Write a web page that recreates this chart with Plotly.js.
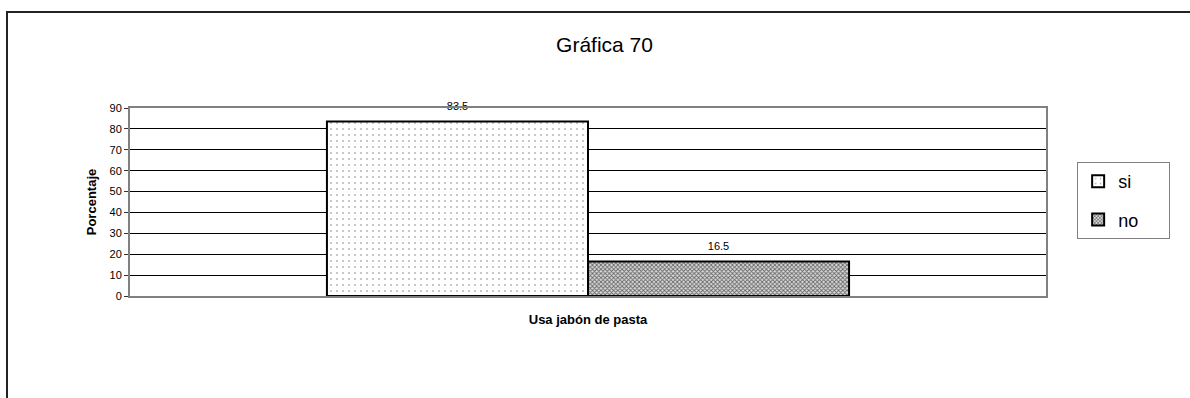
<!DOCTYPE html>
<html>
<head>
<meta charset="utf-8">
<script src="https://cdn.plot.ly/plotly-3.0.1.min.js"></script>
<style>
  body { margin: 0; background: #fff; }
  #wrap { position: relative; width: 1190px; height: 398px; overflow: hidden; }
  #chart { position: absolute; left: 0; top: 0; width: 1190px; height: 398px; }
  /* frame around the chart sheet, open on the right and bottom */
  #frame { position: absolute; left: 6px; top: 11px; width: 1200px; height: 400px;
           border-top: 2px solid #222; border-left: 2px solid #222; pointer-events: none; }
</style>
</head>
<body>
<div id="wrap">
  <div id="chart"></div>
  <div id="frame"></div>
</div>
<script>
// data
const categoria = ['Usa jabón de pasta'];
const serieSi = [83.5];
const serieNo = [16.5];
const yTicks = [0, 10, 20, 30, 40, 50, 60, 70, 80, 90];

const fontFam = 'Liberation Sans, Arial, sans-serif';

// value label a bit higher above the bar, like the original
const etiqueta = v => '<span style="font-size:11px">' + v + '</span><br> ';

const traceSi = {
    type: 'bar',
    name: 'si\u00a0\u00a0\u00a0\u00a0\u00a0',
    legendgroup: 'si',
    x: categoria,
    y: serieSi,
    text: serieSi.map(etiqueta),
    textposition: 'outside',
    cliponaxis: false,
    textfont: { family: fontFam, size: 6, color: '#000' },
    marker: {
        color: '#fff',
        line: { color: '#000', width: 2 },
        pattern: { shape: '.', size: 6, solidity: 0.1, fgcolor: '#bbb', bgcolor: '#fff' }
    }
};

const traceNo = {
    type: 'bar',
    name: 'no\u00a0\u00a0\u00a0\u00a0\u00a0',
    legendgroup: 'no',
    x: categoria,
    y: serieNo,
    text: serieNo.map(etiqueta),
    textposition: 'outside',
    cliponaxis: false,
    textfont: { family: fontFam, size: 6, color: '#000' },
    marker: {
        color: '#999',
        line: { color: '#000', width: 2 },
        pattern: { shape: 'x', size: 3, solidity: 0.5, fgcolor: '#666', bgcolor: '#ddd' }
    }
};

const layout = {
    width: 1190,
    height: 398,
    margin: { l: 130, r: 144, t: 108, b: 102 },
    paper_bgcolor: 'rgba(0,0,0,0)',
    plot_bgcolor: '#fff',
    font: { family: fontFam, color: '#000' },
    barmode: 'group',
    bargap: 0.43,
    bargroupgap: 0,
    title: {
        text: 'Gráfica 70',
        font: { family: fontFam, size: 21, color: '#000' },
        xref: 'container', x: 0.508, xanchor: 'center',
        yref: 'container', y: 0.887, yanchor: 'middle'
    },
    xaxis: {
        type: 'category',
        showticklabels: false,
        ticks: '',
        showgrid: false,
        showline: true,
        linecolor: '#808080',
        linewidth: 2,
        mirror: true,
        title: { text: 'Usa jabón de pasta', font: { family: fontFam, size: 13, color: '#000', weight: 'bold' }, standoff: 18 }
    },
    yaxis: {
        range: [0, 90],
        tickvals: yTicks,
        ticks: 'outside',
        ticklen: 4,
        tickcolor: '#333',
        tickfont: { family: fontFam, size: 11, color: '#000' },
        showgrid: true,
        gridcolor: '#000',
        gridwidth: 1,
        zeroline: false,
        showline: true,
        linecolor: '#808080',
        linewidth: 2,
        mirror: true,
        title: { text: 'Porcentaje', font: { family: fontFam, size: 13, color: '#000', weight: 'bold' }, standoff: 10 }
    },
    showlegend: true,
    legend: {
        x: 1.034, xanchor: 'left',
        y: 0.713, yanchor: 'top',
        bgcolor: '#fff',
        bordercolor: '#808080',
        borderwidth: 1,
        font: { family: fontFam, size: 18, color: '#000' },
        traceorder: 'grouped',
        tracegroupgap: 12,
        itemwidth: 30
    }
};

Plotly.newPlot('chart', [traceSi, traceNo], layout, { displayModeBar: false, staticPlot: true });
</script>
</body>
</html>
